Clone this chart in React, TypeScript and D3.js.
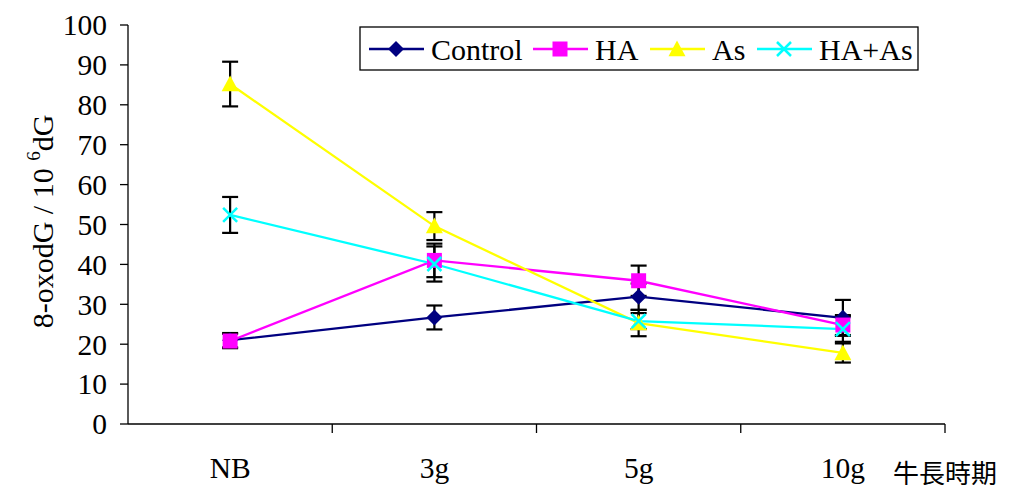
import React, { useRef, useEffect } from "react";
import * as d3 from "d3";

const categories = ["NB", "3g", "5g", "10g"];
const seriesNames = ["Control", "HA", "As", "HA+As"];
const controlVals = [21, 26.7, 31.9, 26.6];
const controlErr = [1.8, 3, 3.3, 4.5];
const haVals = [20.8, 41, 35.9, 24.8];
const haErr = [1.8, 4.2, 3.8, 2.5];
const asVals = [85.2, 49.6, 25.3, 17.8];
const asErr = [5.6, 3.5, 3.3, 2.4];
const haAsVals = [52.4, 40.1, 25.8, 23.8];
const haAsErr = [4.5, 4.4, 2, 3.2];
const yTicks = [0, 10, 20, 30, 40, 50, 60, 70, 80, 90, 100];

const colors = ["#000080", "#FF00FF", "#FFFF00", "#00FFFF"];
const symbols = ["diamond", "square", "triangle", "cross"];

function App() {
  const ref = useRef(null);

  useEffect(() => {
    const svg = d3.select(ref.current);
    svg.selectAll("*").remove();
    const font = "'Liberation Serif', 'Times New Roman', serif";

    const margin = { left: 128, top: 25, right: 65, bottom: 61 };
    const w = 1010 - margin.left - margin.right;
    const h = 485 - margin.top - margin.bottom;

    const series = [
      { name: seriesNames[0], vals: controlVals, err: controlErr },
      { name: seriesNames[1], vals: haVals, err: haErr },
      { name: seriesNames[2], vals: asVals, err: asErr },
      { name: seriesNames[3], vals: haAsVals, err: haAsErr },
    ];

    const x = d3.scaleBand().domain(categories).range([0, w]);
    const y = d3.scaleLinear().domain([0, 100]).range([h, 0]);
    const cx = (c) => x(c) + x.bandwidth() / 2;

    const g = svg.append("g").attr("transform", `translate(${margin.left}, ${margin.top})`);

    // y axis
    g.append("line").attr("x1", 0).attr("x2", 0).attr("y1", 0).attr("y2", h)
      .attr("stroke", "#000").attr("stroke-width", 1.3);
    yTicks.forEach((t) => {
      g.append("line").attr("x1", -8).attr("x2", 0).attr("y1", y(t)).attr("y2", y(t))
        .attr("stroke", "#000").attr("stroke-width", 1.3);
      g.append("text").attr("x", -21).attr("y", y(t)).attr("dy", "0.35em")
        .attr("text-anchor", "end").style("font-family", font).style("font-size", "29.5px")
        .text(t);
    });

    // x axis
    g.append("line").attr("x1", 0).attr("x2", w).attr("y1", h).attr("y2", h)
      .attr("stroke", "#000").attr("stroke-width", 1.3);
    categories.forEach((c) => {
      g.append("line").attr("x1", x(c) + x.bandwidth()).attr("x2", x(c) + x.bandwidth())
        .attr("y1", h).attr("y2", h + 9).attr("stroke", "#000").attr("stroke-width", 1.3);
      g.append("text").attr("x", cx(c)).attr("y", h + 54).attr("text-anchor", "middle")
        .style("font-family", font).style("font-size", "29.5px").text(c);
    });

    svg.append("text").attr("x", 893).attr("y", 483)
      .style("font-family", "'Noto Sans CJK TC', sans-serif").style("font-size", "26px")
      .text("牛長時期");

    // y title
    const yt = svg.append("text")
      .attr("transform", `translate(53, ${margin.top + h / 2 - 3}) rotate(-90)`)
      .attr("text-anchor", "middle").style("font-family", font).style("font-size", "30px");
    yt.append("tspan").text("8-oxodG / 10  ");
    yt.append("tspan").attr("dy", -13).style("font-size", "19px").text("6");
    yt.append("tspan").attr("dy", 13).text("dG");

    // error bars
    series.forEach((s) => {
      s.vals.forEach((v, i) => {
        const px = cx(categories[i]);
        const eg = g.append("g").attr("stroke", "#000").attr("stroke-width", 2.2);
        eg.append("line").attr("x1", px).attr("x2", px).attr("y1", y(v + s.err[i])).attr("y2", y(v - s.err[i]));
        [v + s.err[i], v - s.err[i]].forEach((e) => {
          eg.append("line").attr("x1", px - 8).attr("x2", px + 8).attr("y1", y(e)).attr("y2", y(e));
        });
      });
    });

    const line = d3.line().x((d, i) => cx(categories[i])).y((d) => y(d));

    const drawMarker = (sel, type, color, px, py) => {
      if (type === "cross") {
        const r = 7;
        sel.append("path").attr("d", `M${px - r},${py - r}L${px + r},${py + r}M${px - r},${py + r}L${px + r},${py - r}`)
          .attr("stroke", color).attr("stroke-width", 2.5).attr("fill", "none");
      } else if (type === "diamond") {
        const r = 8;
        sel.append("path").attr("d", `M${px},${py - r}L${px + r},${py}L${px},${py + r}L${px - r},${py}Z`)
          .attr("fill", color);
      } else if (type === "square") {
        const r = 7.5;
        sel.append("rect").attr("x", px - r).attr("y", py - r).attr("width", 2 * r).attr("height", 2 * r)
          .attr("fill", color);
      } else {
        const r = 8.5;
        sel.append("path").attr("d", `M${px},${py - r}L${px + r},${py + r * 0.85}L${px - r},${py + r * 0.85}Z`)
          .attr("fill", color);
      }
    };

    series.forEach((s, k) => {
      g.append("path").datum(s.vals).attr("d", line).attr("fill", "none")
        .attr("stroke", colors[k]).attr("stroke-width", 2.3);
    });
    series.forEach((s, k) => {
      s.vals.forEach((v, i) => drawMarker(g, symbols[k], colors[k], cx(categories[i]), y(v)));
    });

    // legend
    const lg = svg.append("g");
    lg.append("rect").attr("x", 360).attr("y", 27).attr("width", 558).attr("height", 43)
      .attr("fill", "#fff").attr("stroke", "#000").attr("stroke-width", 1.3);
    const lx = [369, 533, 650, 757];
    series.forEach((s, k) => {
      lg.append("line").attr("x1", lx[k]).attr("x2", lx[k] + 55).attr("y1", 49).attr("y2", 49)
        .attr("stroke", colors[k]).attr("stroke-width", 2.3);
      drawMarker(lg, symbols[k], colors[k], lx[k] + 27, 49);
      lg.append("text").attr("x", lx[k] + 62).attr("y", 49).attr("dy", "0.35em")
        .style("font-family", font).style("font-size", "30px").text(s.name);
    });
  }, []);

  return (
    <svg ref={ref} width={1010} height={485} style={{ position: "absolute", left: 0, top: 0, background: "#fff" }}></svg>
  );
}

export default App;
